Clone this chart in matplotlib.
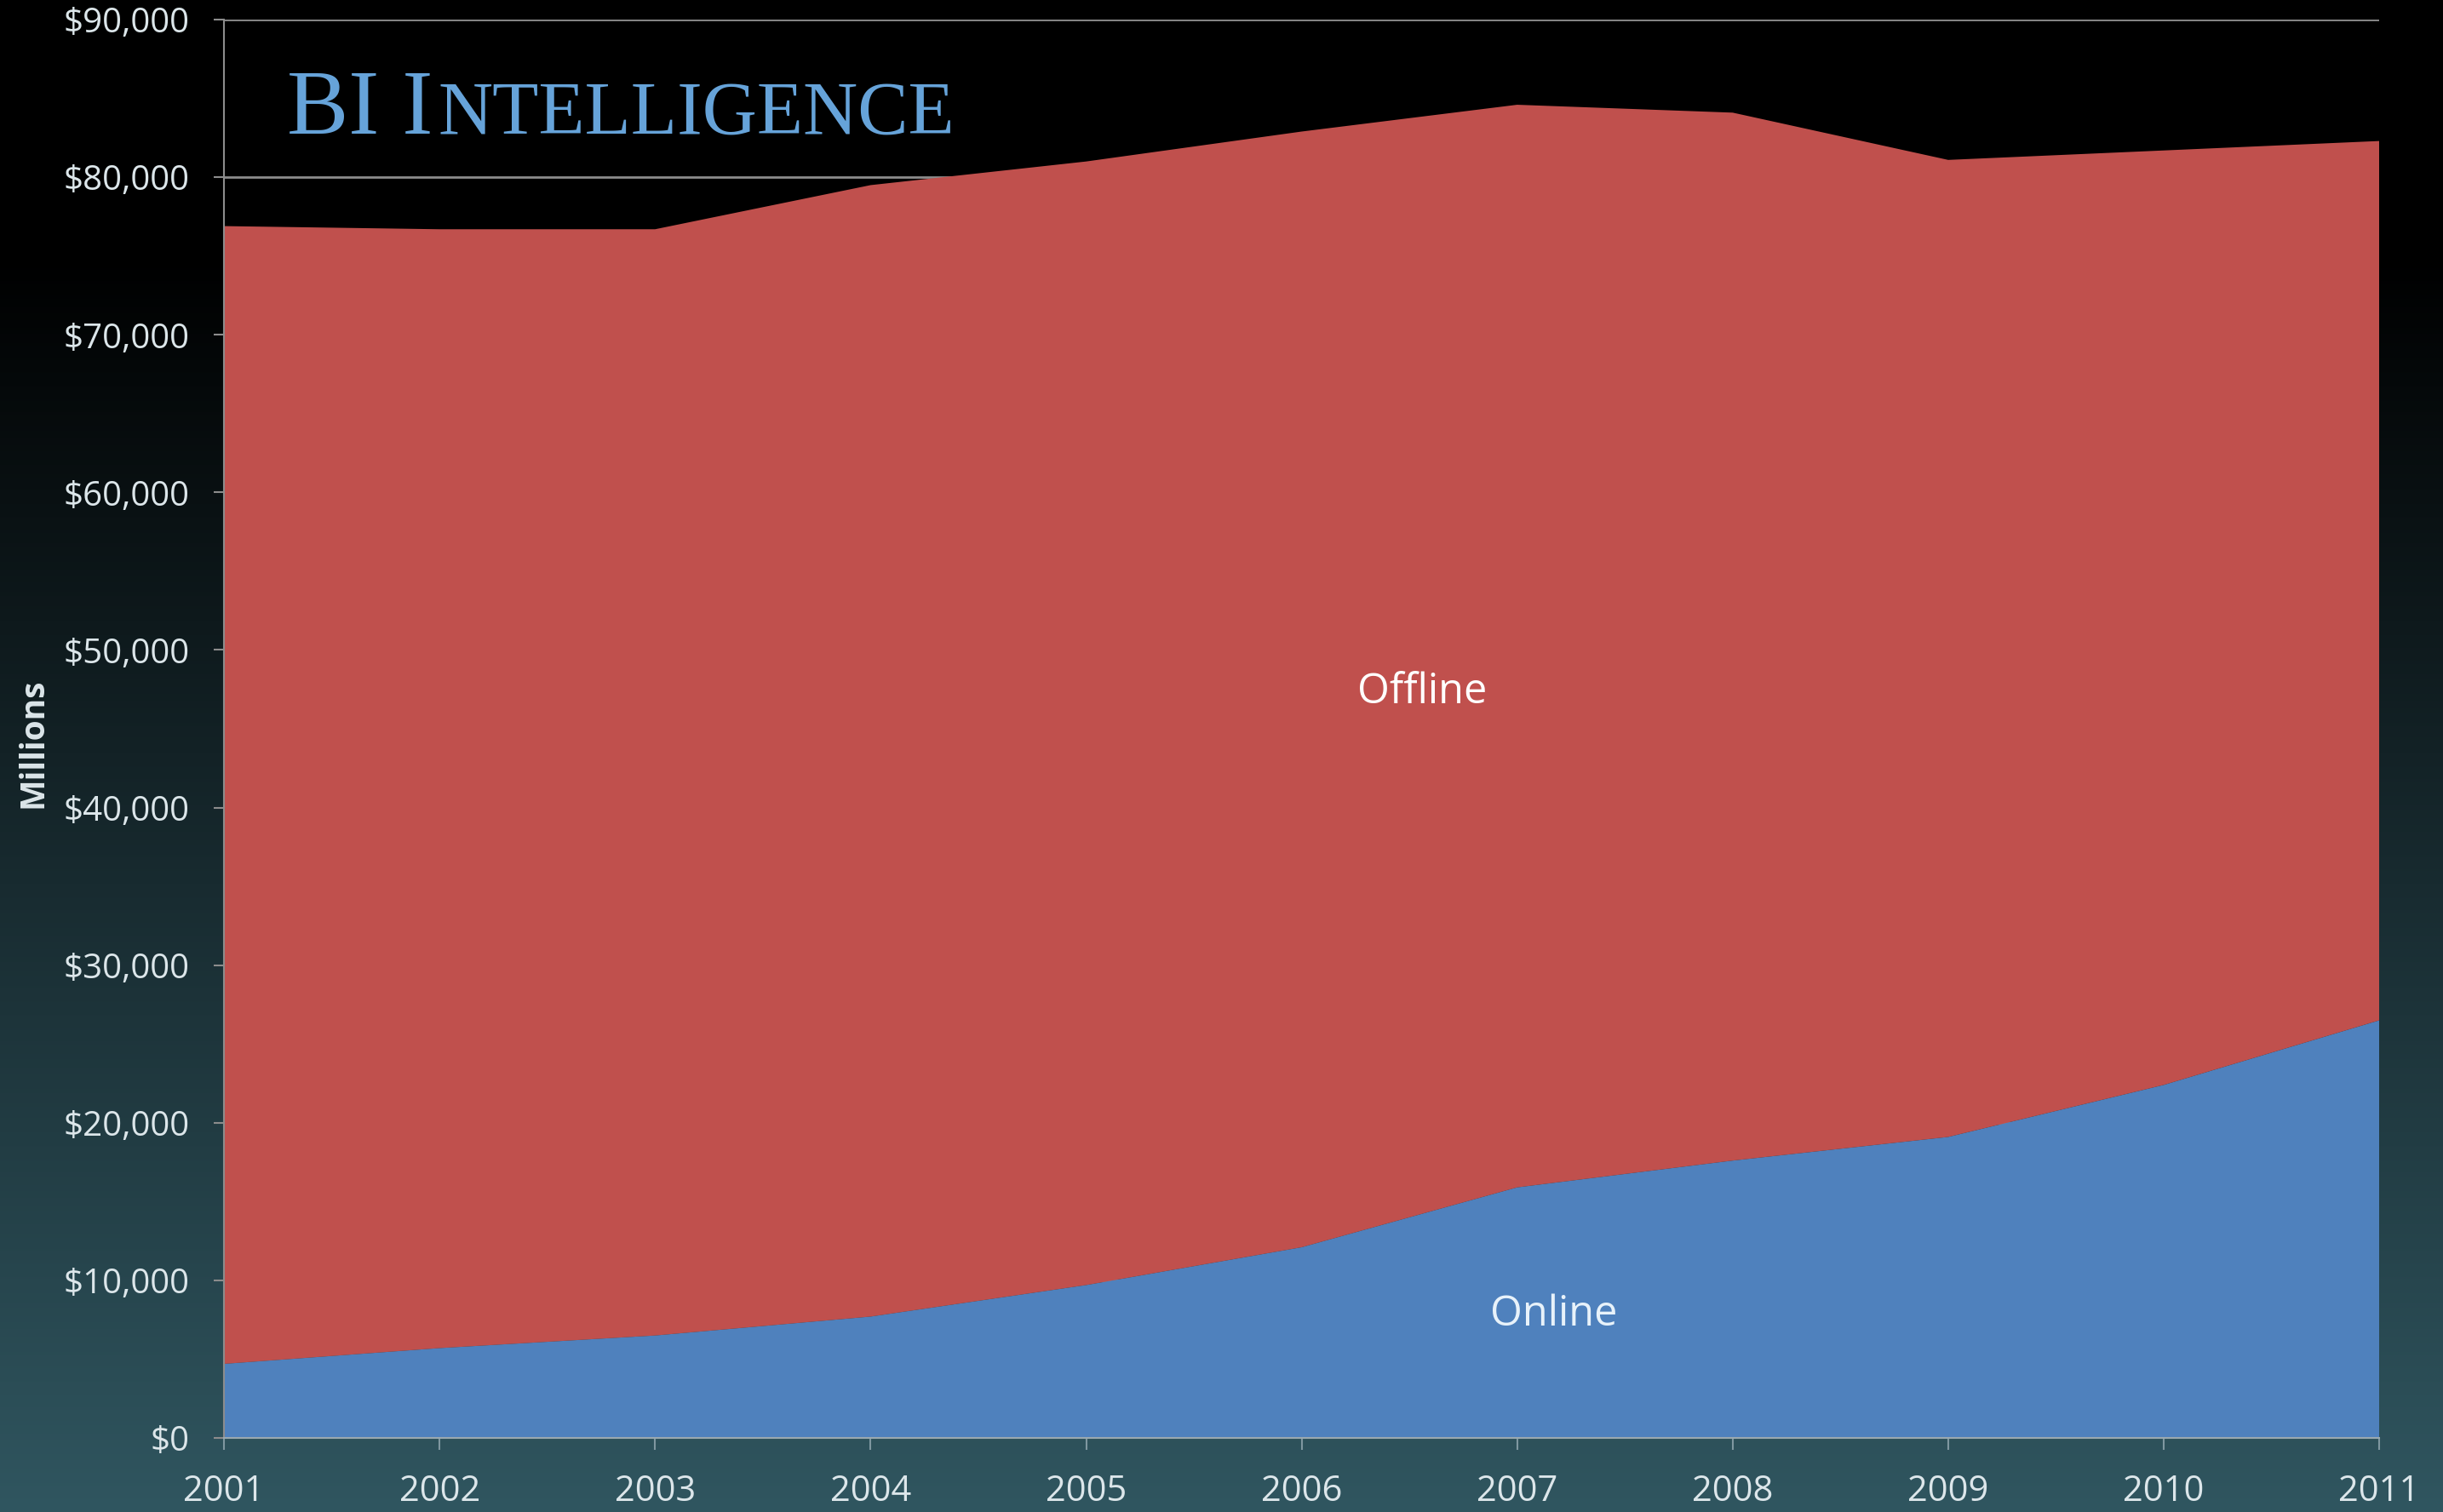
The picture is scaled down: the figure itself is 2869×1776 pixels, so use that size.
import numpy as np
import matplotlib
matplotlib.use("Agg")
import matplotlib.pyplot as plt
from matplotlib.ticker import FuncFormatter

# values (millions of dollars)
years = [2001, 2002, 2003, 2004, 2005, 2006, 2007, 2008, 2009, 2010, 2011]
online = [4700, 5700, 6500, 7700, 9700, 12100, 15900, 17600, 19100, 22400, 26500]
offline = [72200, 71000, 70200, 71800, 71300, 70800, 68700, 66500, 62000, 59300, 55800]
y_ticks = [0, 10000, 20000, 30000, 40000, 50000, 60000, 70000, 80000, 90000]

blue = '#4f81bd'
red = '#c0504d'
label_col = '#dce6ea'
grid_col = '#8c8c8c'

plt.rcParams['font.family'] = ['Open Sans', 'DejaVu Sans']

fig = plt.figure(figsize=(28.69, 17.76), dpi=100)

# background: black at the top fading to dark teal at the bottom
bg = fig.add_axes([0, 0, 1, 1], zorder=-10)
rows = np.arange(1776)
t = np.clip((rows - 300) / (1776 - 300), 0, 1)
teal = np.array([48, 86, 96]) / 255
grad = t[:, None, None] * teal[None, None, :]
bg.imshow(grad, aspect='auto', extent=[0, 1, 0, 1])
bg.axis('off')

ax = fig.add_axes([0.0917, 0.0490, 0.8822, 0.9380])
ax.set_facecolor('none')
ax.stackplot(years, online, offline, colors=[blue, red], linewidth=0, zorder=2)

ax.set_xlim(years[0], years[-1])
ax.set_ylim(0, 90000)
ax.set_xticks(years)
ax.set_yticks(y_ticks)
ax.yaxis.set_major_formatter(FuncFormatter(lambda v, p: '${:,.0f}'.format(v)))

ax.set_axisbelow(True)
ax.yaxis.grid(True, color=grid_col, linewidth=2)
ax.xaxis.grid(False)

for s in ['top', 'right']:
    ax.spines[s].set_visible(False)
ax.spines['left'].set_color(grid_col)
ax.spines['left'].set_linewidth(1.5)
ax.spines['bottom'].set_color('#9aa9b0')
ax.spines['bottom'].set_linewidth(1.5)

ax.tick_params(axis='y', direction='out', length=9, width=1.5, color=grid_col,
               labelcolor=label_col, labelsize=29, pad=20)
ax.tick_params(axis='x', direction='out', length=10, width=1.5, color='#7f97a0',
               labelcolor=label_col, labelsize=30, pad=20)

ax.set_ylabel('Millions', color=label_col, fontsize=28, fontweight='bold')
ax.yaxis.set_label_coords(-0.081, 0.49)

ax.text(2006.56, 47300, 'Offline', color='white', fontsize=35, ha='center', va='center', zorder=5)
ax.text(2007.17, 7800, 'Online', color='#e8f2fa', fontsize=35, ha='center', va='center', zorder=5)

# logo in small caps
logo_col = '#66a3d9'
t1 = fig.text(0.1175, 0.9116, 'BI I', color=logo_col, fontsize=78,
              family='Liberation Serif', va='baseline')
fig.canvas.draw()
ext = t1.get_window_extent()
fig.text(ext.x1 / fig.bbox.width + 0.002, 0.9116, 'NTELLIGENCE', color=logo_col, fontsize=64,
         family='Liberation Serif', va='baseline')

fig.savefig('out.png', dpi=100)
